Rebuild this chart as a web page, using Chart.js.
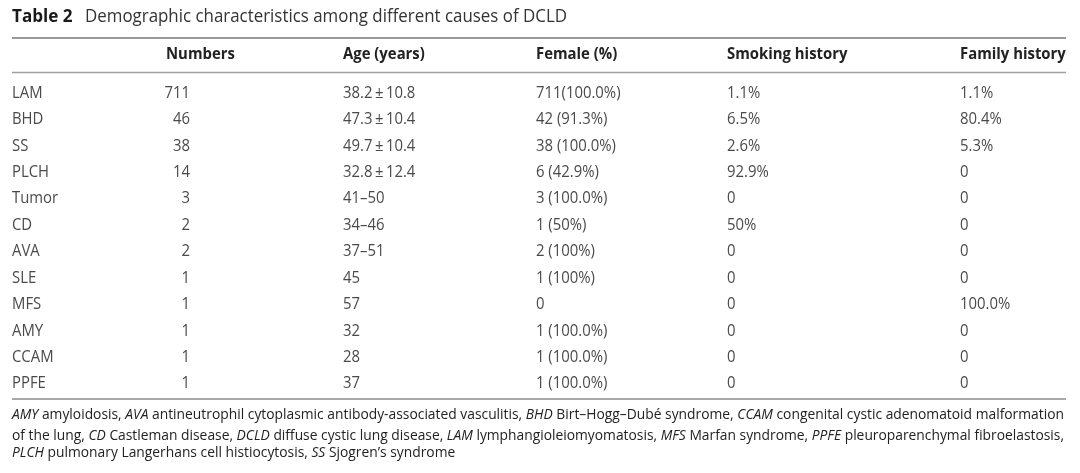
<!DOCTYPE html>
<html>
<head>
<meta charset="utf-8">
<script src="https://cdn.jsdelivr.net/npm/chart.js@4.4.1/dist/chart.umd.min.js"></script>
<style>
  html, body { margin: 0; background: #fff; }
  #wrap { width: 1080px; height: 473px; position: relative; }
</style>
</head>
<body>
<div id="wrap"><canvas id="table"></canvas></div>
<script>
const titleBold = 'Table 2';
const titleText = 'Demographic characteristics among different causes of DCLD';
const headers = ['Numbers', 'Age (years)', 'Female (%)', 'Smoking history', 'Family history'];
const causes = ['LAM', 'BHD', 'SS', 'PLCH', 'Tumor', 'CD', 'AVA', 'SLE', 'MFS', 'AMY', 'CCAM', 'PPFE'];
const numbers = [711, 46, 38, 14, 3, 2, 2, 1, 1, 1, 1, 1];
const ages = ['38.2\u2009±\u200910.8', '47.3\u2009±\u200910.4', '49.7\u2009±\u200910.4', '32.8\u2009±\u200912.4',
  '41–50', '34–46', '37–51', '45', '57', '32', '28', '37'];
const female = ['711(100.0%)', '42 (91.3%)', '38 (100.0%)', '6 (42.9%)', '3 (100.0%)', '1 (50%)',
  '2 (100%)', '1 (100%)', '0', '1 (100.0%)', '1 (100.0%)', '1 (100.0%)'];
const smoking = ['1.1%', '6.5%', '2.6%', '92.9%', '0', '50%', '0', '0', '0', '0', '0', '0'];
const family = ['1.1%', '80.4%', '5.3%', '0', '0', '0', '0', '0', '100.0%', '0', '0', '0'];
// footnote: [italic abbreviation, plain text] pairs per line
const footnote = [
  [['AMY', ' amyloidosis, '], ['AVA', ' antineutrophil cytoplasmic antibody-associated vasculitis, '],
   ['BHD', ' Birt–Hogg–Dubé syndrome, '], ['CCAM', ' congenital cystic adenomatoid malformation']],
  [['', 'of the lung, '], ['CD', ' Castleman disease, '], ['DCLD', ' diffuse cystic lung disease, '],
   ['LAM', ' lymphangioleiomyomatosis, '], ['MFS', ' Marfan syndrome, '], ['PPFE', ' pleuroparenchymal fibroelastosis,']],
  [['PLCH', ' pulmonary Langerhans cell histiocytosis, '], ['SS', ' Sjogren’s syndrome']]
];

// layout
const FONT = '"Open Sans", "Noto Sans", sans-serif';
const cellX = [12, 190, 343, 536, 727, 960];
const cellAlign = ['left', 'right', 'left', 'left', 'left', 'left'];
const headX = [166, 343, 536, 727, 960];
const squeeze = 0.93;
const left = 12, right = 1066;

function put(ctx, str, x, y, font, color, align, sx) {
  ctx.save();
  ctx.font = font;
  ctx.fillStyle = color;
  ctx.textAlign = align || 'left';
  ctx.textBaseline = 'middle';
  ctx.translate(x, y);
  ctx.scale(sx || squeeze, 1);
  ctx.fillText(str, 0, 0);
  ctx.restore();
}
function rule(ctx, y, width, color) {
  ctx.save();
  ctx.strokeStyle = color;
  ctx.lineWidth = width;
  ctx.beginPath();
  ctx.moveTo(left, y);
  ctx.lineTo(right, y);
  ctx.stroke();
  ctx.restore();
}

const tablePlugin = {
  id: 'tablePlugin',
  afterDatasetsDraw(chart) {
    const { ctx, chartArea: area } = chart;
    // title
    put(ctx, titleBold, left, 17, 'bold 18px ' + FONT, '#1a1a1a', 'left', 0.95);
    ctx.font = '18px ' + FONT;
    const tw = ctx.measureText(titleText).width;
    put(ctx, titleText, 85, 17, '18px ' + FONT, '#333', 'left', (567 - 85) / tw);

    rule(ctx, area.top - 41, 2, '#9a9a9a');
    rule(ctx, area.top - 6.5, 1.5, '#a0a0a0');
    rule(ctx, area.bottom + 3, 1.2, '#555');

    headers.forEach((h, i) => put(ctx, h, headX[i], area.top - 25, 'bold 16px ' + FONT, '#222'));

    chart.data.datasets.forEach((ds, c) => {
      chart.getDatasetMeta(c).data.forEach((pt, i) => {
        put(ctx, ds.text[i], pt.x, pt.y + 1, '16px ' + FONT, '#4a4a4a', ds.align);
      });
    });

    // footnote, justified lines
    const ys = [area.bottom + 19, area.bottom + 39.5, area.bottom + 57];
    let sx = squeeze;
    footnote.forEach((line, li) => {
      let w = 0;
      line.forEach(([ab, tx]) => {
        ctx.font = 'italic 15px ' + FONT; w += ctx.measureText(ab).width;
        ctx.font = '15px ' + FONT; w += ctx.measureText(tx).width;
      });
      if (li < 2) sx = (right - 2 - left) / w;
      let x = left;
      line.forEach(([ab, tx]) => {
        if (ab) {
          put(ctx, ab, x, ys[li], 'italic 15px ' + FONT, '#222', 'left', sx);
          ctx.font = 'italic 15px ' + FONT; x += ctx.measureText(ab).width * sx;
        }
        put(ctx, tx, x, ys[li], '15px ' + FONT, '#222', 'left', sx);
        ctx.font = '15px ' + FONT; x += ctx.measureText(tx).width * sx;
      });
    });
  }
};

const columns = [causes, numbers.map(String), ages, female, smoking, family];

new Chart(document.getElementById('table'), {
  type: 'scatter',
  data: {
    datasets: columns.map((col, c) => ({
      label: c ? headers[c - 1] : 'Cause',
      data: causes.map((cause, i) => ({ x: cellX[c], y: cause })),
      text: col,
      align: cellAlign[c],
      pointRadius: 0,
      pointHoverRadius: 0
    }))
  },
  options: {
    responsive: true,
    maintainAspectRatio: false,
    animation: false,
    layout: { padding: { top: 79, bottom: 77, left: 0, right: 0 } },
    scales: {
      x: { type: 'linear', min: 0, max: 1080, display: false },
      y: { type: 'category', labels: causes, offset: true, display: false }
    },
    plugins: { legend: { display: false }, tooltip: { enabled: false } }
  },
  plugins: [tablePlugin]
});
</script>
</body>
</html>
